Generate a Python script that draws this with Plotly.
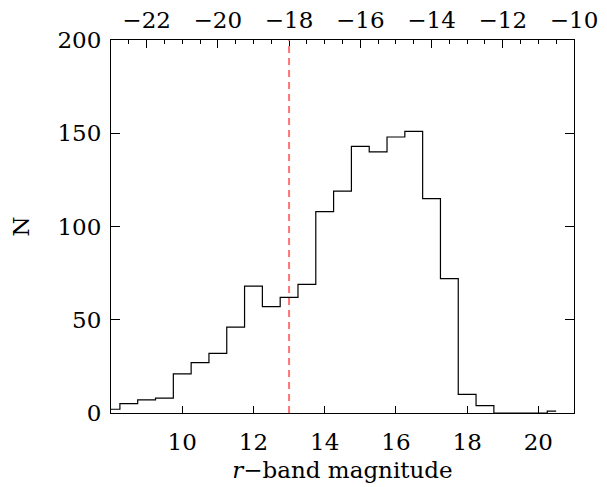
import plotly.graph_objects as go

# histogram of r-band apparent magnitudes (bin centres, 0.5 mag bins)
mag = [8.0, 8.5, 9.0, 9.5, 10.0, 10.5, 11.0, 11.5, 12.0, 12.5, 13.0, 13.5, 14.0,
       14.5, 15.0, 15.5, 16.0, 16.5, 17.0, 17.5, 18.0, 18.5, 19.0, 19.5, 20.0, 20.5]
counts = [2, 5, 7, 8, 21, 27, 32, 46, 68, 57, 62, 69, 108,
          119, 143, 140, 148, 151, 115, 72, 10, 4, 0, 0, 0, 1]

cut_mag = 13.0          # dashed limit
dist_mod = 31.0         # apparent -> absolute offset for top axis
x_range = [8, 21]
y_range = [0, 200]
bottom_ticks = [10, 12, 14, 16, 18, 20]
top_ticks = [-22, -20, -18, -16, -14, -12, -10]

font = dict(family="DejaVu Serif", size=23, color="black")

fig = go.Figure()

fig.add_trace(
    go.Scatter(
        x=mag,
        y=counts,
        mode="lines",
        line=dict(color="black", width=1.2, shape="hvh"),
        showlegend=False,
        hoverinfo="skip"
    )
)

# same data on the absolute-magnitude axis, invisible, so the top axis is drawn
fig.add_trace(
    go.Scatter(
        x=[m - dist_mod for m in mag],
        y=counts,
        xaxis="x2",
        mode="lines",
        line=dict(width=0),
        opacity=0,
        showlegend=False,
        hoverinfo="skip"
    )
)

fig.add_vline(
    x=cut_mag,
    line=dict(color="#ff7373", width=2, dash="7px,5px")
)

# page body adds an 8px margin, so the figure is a bit smaller than the window
fig.update_layout(
    width=599,
    height=479,
    margin=dict(l=103, r=33, t=32, b=74),
    paper_bgcolor="white",
    plot_bgcolor="white",
    font=font,
    showlegend=False,
    xaxis=dict(
        range=x_range,
        tickvals=bottom_ticks,
        ticks="inside",
        ticklen=7,
        tickcolor="black",
        showline=True,
        linecolor="black",
        linewidth=1,
        showgrid=False,
        zeroline=False,
        automargin=False,
        ticklabelstandoff=8,
        title=dict(text="<i>r</i>−band magnitude", standoff=8, font=font),
    ),
    xaxis2=dict(
        range=[x_range[0] - dist_mod, x_range[1] - dist_mod],
        overlaying="x",
        side="top",
        anchor="y",
        tickvals=top_ticks,
        ticks="inside",
        ticklen=8,
        tickcolor="black",
        minor=dict(dtick=0.5, ticks="inside", ticklen=4, tickcolor="black"),
        showline=True,
        linecolor="black",
        linewidth=1,
        showgrid=False,
        zeroline=False,
        automargin=False,
        ticklabelstandoff=2,
    ),
    yaxis=dict(
        range=y_range,
        dtick=50,
        ticks="inside",
        ticklen=9,
        tickcolor="black",
        showline=True,
        linecolor="black",
        linewidth=1,
        mirror="ticks",
        showgrid=False,
        zeroline=False,
        automargin=False,
        ticklabelstandoff=4,
        title=dict(text="N", standoff=25, font=font),
    ),
)

fig.write_html("out.html")
